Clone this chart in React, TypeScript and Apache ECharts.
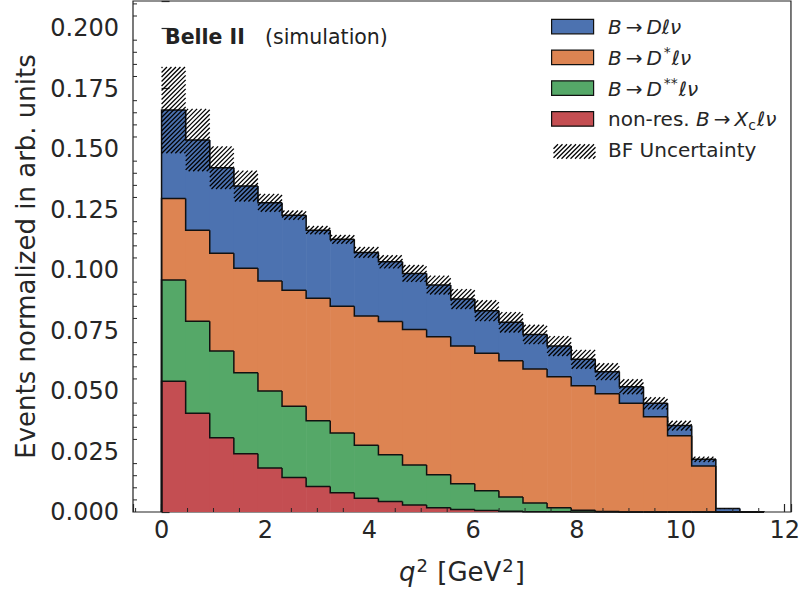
import React, { useEffect, useRef } from 'react';
import * as echarts from 'echarts';

// q^2 bin edges [GeV^2]
const binEdges = [0, 0.464, 0.928, 1.392, 1.856, 2.32, 2.784, 3.248, 3.712, 4.176, 4.64, 5.104, 5.568, 6.032, 6.496, 6.96, 7.424, 7.888, 8.352, 8.816, 9.28, 9.744, 10.208, 10.672, 11.136, 11.6];

// per-component contributions (stacked bottom -> top)
const nonResXc = [0.0540, 0.0408, 0.0307, 0.0241, 0.0182, 0.0143, 0.0105, 0.0080, 0.0057, 0.0043, 0.0029, 0.0018, 0.0010, 0.0006, 0.0003, 0.0001, 0.0001, 0, 0, 0, 0, 0, 0, 0, 0];
const bToDss = [0.0419, 0.0380, 0.0358, 0.0335, 0.0318, 0.0294, 0.0272, 0.0246, 0.0219, 0.0194, 0.0165, 0.0136, 0.0107, 0.0082, 0.0059, 0.0036, 0.0017, 0.0007, 0.0002, 0, 0, 0, 0, 0, 0];
const bToDs = [0.0337, 0.0377, 0.0404, 0.0431, 0.0455, 0.0480, 0.0506, 0.0524, 0.0534, 0.0550, 0.0560, 0.0570, 0.0569, 0.0568, 0.0563, 0.0554, 0.0541, 0.0515, 0.0487, 0.0449, 0.0394, 0.0315, 0.0190, 0, 0];
const bToD = [0.0365, 0.0372, 0.0354, 0.0340, 0.0323, 0.0310, 0.0282, 0.0277, 0.0263, 0.0247, 0.0232, 0.0214, 0.0194, 0.0176, 0.0159, 0.0143, 0.0127, 0.0109, 0.0091, 0.0069, 0.0055, 0.0042, 0.0028, 0.0014, 0.0001];
const bfUncertainty = [0.0178, 0.0129, 0.0088, 0.0064, 0.0037, 0.0019, 0.0017, 0.0018, 0.0022, 0.0027, 0.0035, 0.0039, 0.0041, 0.0043, 0.0042, 0.0040, 0.0041, 0.0039, 0.0035, 0.0031, 0.0025, 0.0020, 0.0011, 0.0001, 0];

const TS = '\u2009';
const legendLabels = [
  `{i|B}${TS}→${TS}{i|Dℓν}`,
  `{i|B}${TS}→${TS}{i|D}{sup|*}{i|ℓν}`,
  `{i|B}${TS}→${TS}{i|D}{sup|**}{i|ℓν}`,
  `non-res. {i|B}${TS}→${TS}{i|X}{sub|c}{i|ℓν}`,
  'BF Uncertainty',
];

const X_MIN = -0.55;
const X_MAX = 12.12;
const Y_MAX = 0.2112;
const FONT = 'DejaVu Sans';
const TXT = '#262626';

const colors = { d: '#4c72b0', ds: '#dd8452', dss: '#55a868', nr: '#c44e52' };

function hatchLines(X0: number, X1: number, Yt: number, Yb: number, period = 4.5, lw = 1.3) {
  const out: any[] = [];
  if (Yb - Yt < 0.2 || X1 - X0 < 0.2) return out;
  const cStart = Math.ceil((X0 + Yt) / period) * period;
  for (let c = cStart; c <= X1 + Yb; c += period) {
    const xa = Math.max(X0, c - Yb);
    const xb = Math.min(X1, c - Yt);
    if (xb > xa) {
      out.push({
        type: 'line',
        shape: { x1: xa, y1: c - xa, x2: xb, y2: c - xb },
        style: { stroke: '#000', lineWidth: lw, lineCap: 'butt' },
        z2: 20,
      });
    }
  }
  return out;
}

export default function App() {
  const ref = useRef<HTMLDivElement>(null);
  useEffect(() => {
    if (!ref.current) return;
    const chart = echarts.init(ref.current, undefined, { renderer: 'svg' });
    const n = binEdges.length - 1;
    const layers = [
      { name: 'nonres', values: nonResXc, color: colors.nr },
      { name: 'dss', values: bToDss, color: colors.dss },
      { name: 'ds', values: bToDs, color: colors.ds },
      { name: 'd', values: bToD, color: colors.d },
    ];
    const cum = new Array(n).fill(0);
    const series: any[] = [];
    layers.forEach((layer) => {
      const bottoms = cum.slice();
      for (let i = 0; i < n; i++) cum[i] += layer.values[i];
      const tops = cum.slice();
      const data = [];
      for (let i = 0; i < n; i++) {
        data.push([binEdges[i], binEdges[i + 1], bottoms[i], tops[i], i === 0 ? 0 : tops[i - 1], i === n - 1 ? 1 : 0]);
      }
      const color = layer.color;
      series.push({
        type: 'custom',
        name: layer.name,
        coordinateSystem: 'cartesian2d',
        data,
        encode: { x: [0, 1], y: [2, 3] },
        renderItem: (params: any, api: any) => {
          const x0 = api.value(0), x1 = api.value(1), b = api.value(2), t = api.value(3), pt = api.value(4), last = api.value(5);
          const pb = api.coord([x0, b]);
          const pt1 = api.coord([x1, t]);
          const pPrev = api.coord([x0, pt]);
          const pTop0 = api.coord([x0, t]);
          const points: number[][] = [[pPrev[0], pPrev[1]], [pTop0[0], pTop0[1]], [pt1[0], pt1[1]]];
          if (last) { const e = api.coord([x1, 0]); points.push([e[0], e[1]]); }
          return {
            type: 'group',
            children: [
              { type: 'rect', shape: { x: pb[0], y: pt1[1], width: pt1[0] - pb[0] + (last ? 0 : 0.6), height: pb[1] - pt1[1] }, style: { fill: color }, z2: 1 },
              { type: 'polyline', shape: { points }, style: { stroke: '#111', lineWidth: 1.5, fill: null, lineJoin: 'miter' }, z2: 10 },
            ],
          };
        },
      });
    });
    // BF uncertainty hatch band around the total
    const hatchData = [];
    for (let i = 0; i < n; i++) hatchData.push([binEdges[i], binEdges[i + 1], cum[i] - bfUncertainty[i], cum[i] + bfUncertainty[i]]);
    series.push({
      type: 'custom',
      name: 'bf',
      coordinateSystem: 'cartesian2d',
      data: hatchData,
      encode: { x: [0, 1], y: [2, 3] },
      renderItem: (params: any, api: any) => {
        const a = api.coord([api.value(0), api.value(3)]);
        const b = api.coord([api.value(1), api.value(2)]);
        return { type: 'group', children: hatchLines(a[0], b[0], a[1], b[1]) };
      },
    });
    // minor ticks
    const xMinor: number[][] = [];
    for (let v = -0.5; v <= 12.01; v += 0.5) if (Math.abs(v / 2 - Math.round(v / 2)) > 1e-6) xMinor.push([v, 0]);
    const yMinor: number[][] = [];
    for (let k = 1; k * 0.005 < Y_MAX; k++) if (k % 5 !== 0) yMinor.push([X_MIN, k * 0.005]);
    series.push({
      type: 'custom', coordinateSystem: 'cartesian2d', data: xMinor, encode: { x: 0, y: 1 }, clip: false,
      renderItem: (params: any, api: any) => {
        const p = api.coord([api.value(0), 0]);
        return { type: 'line', shape: { x1: p[0], y1: p[1], x2: p[0], y2: p[1] - 4 }, style: { stroke: TXT, lineWidth: 1 }, z2: 30 };
      },
    });
    series.push({
      type: 'custom', coordinateSystem: 'cartesian2d', data: yMinor, encode: { x: 0, y: 1 }, clip: false,
      renderItem: (params: any, api: any) => {
        const p = api.coord([X_MIN, api.value(1)]);
        return { type: 'line', shape: { x1: p[0], y1: p[1], x2: p[0] + 4, y2: p[1] }, style: { stroke: TXT, lineWidth: 1 }, z2: 30 };
      },
    });

    // legend graphics
    const lgX = 551, lgW = 42, lgH = 14.5, textX = 608;
    const rowsY = [26, 56.7, 87.5, 118.3, 149];
    const swatchColors = [colors.d, colors.ds, colors.dss, colors.nr];
    const graphic: any[] = [];
    rowsY.forEach((cy, i) => {
      if (i < 4) {
        graphic.push({ type: 'rect', left: lgX, top: cy - lgH / 2, shape: { width: lgW, height: lgH }, style: { fill: swatchColors[i], stroke: '#111', lineWidth: 1.2 } });
      } else {
        graphic.push({ type: 'group', left: lgX, top: cy - lgH / 2, children: hatchLines(0, lgW, 0, lgH) });
      }
      graphic.push({
        type: 'text', x: textX, y: cy + 1,
        style: {
          text: legendLabels[i], fontFamily: FONT, fontSize: 20, fill: TXT, verticalAlign: 'middle',
          rich: {
            i: { fontFamily: FONT, fontSize: 20, fontStyle: 'italic', fill: TXT, lineHeight: 26 },
            sup: { fontFamily: FONT, fontSize: 14, fill: TXT, verticalAlign: 'top', lineHeight: 14, padding: [0, 1, 0, 2] },
            sub: { fontFamily: FONT, fontSize: 14, fill: TXT, verticalAlign: 'bottom', lineHeight: 14, padding: [0, 1, 0, 0] },
          },
        },
      });
    });
    graphic.push({ type: 'text', left: 165, top: 26, style: { text: 'Belle II', fontFamily: FONT, fontSize: 20.5, fontWeight: 'bold', fill: '#222' } });
    graphic.push({ type: 'text', left: 265, top: 26, style: { text: '(simulation)', fontFamily: FONT, fontSize: 20.5, fill: '#222' } });

    chart.setOption({
      animation: false,
      grid: { left: 133, right: 9, top: 1, bottom: 80, show: true, borderColor: '#222', borderWidth: 1.2, backgroundColor: 'transparent' },
      xAxis: {
        type: 'value', min: X_MIN, max: X_MAX, splitNumber: 6,
        axisLine: { show: false },
        axisTick: { show: true, inside: true, length: 8, lineStyle: { color: TXT, width: 1.2 } },
        splitLine: { show: false },
        axisLabel: {
          margin: 6, fontFamily: FONT, fontSize: 24, color: TXT,
          formatter: (v: number) => (Math.abs(v - Math.round(v)) < 1e-6 && Math.round(v) % 2 === 0 ? String(Math.round(v)) : ''),
        },
        name: '{i|q}{s|2} [GeV{s|2}]',
        nameLocation: 'middle', nameGap: 44,
        nameTextStyle: {
          fontFamily: FONT, fontSize: 26, color: TXT,
          rich: {
            i: { fontFamily: FONT, fontSize: 26, fontStyle: 'italic', color: TXT, lineHeight: 32 },
            s: { fontFamily: FONT, fontSize: 18, color: TXT, verticalAlign: 'top', lineHeight: 18, padding: [0, 1, 0, 1] },
          },
        },
      },
      yAxis: {
        type: 'value', min: 0, max: Y_MAX, interval: 0.025,
        axisLine: { show: false },
        axisTick: { show: true, inside: true, length: 8, lineStyle: { color: TXT, width: 1.2 } },
        splitLine: { show: false },
        axisLabel: {
          margin: 14, fontFamily: FONT, fontSize: 24, color: TXT,
          formatter: (v: number) => (Math.abs(v / 0.025 - Math.round(v / 0.025)) < 1e-6 ? v.toFixed(3) : ''),
        },
        name: 'Events normalized in arb. units',
        nameLocation: 'middle', nameGap: 94,
        nameTextStyle: { fontFamily: FONT, fontSize: 26, color: TXT },
      },
      series,
      graphic,
    });
    return () => chart.dispose();
  }, []);
  return <div ref={ref} style={{ position: 'fixed', left: 0, top: 0, width: 803, height: 592, background: '#fff' }} />;
}
